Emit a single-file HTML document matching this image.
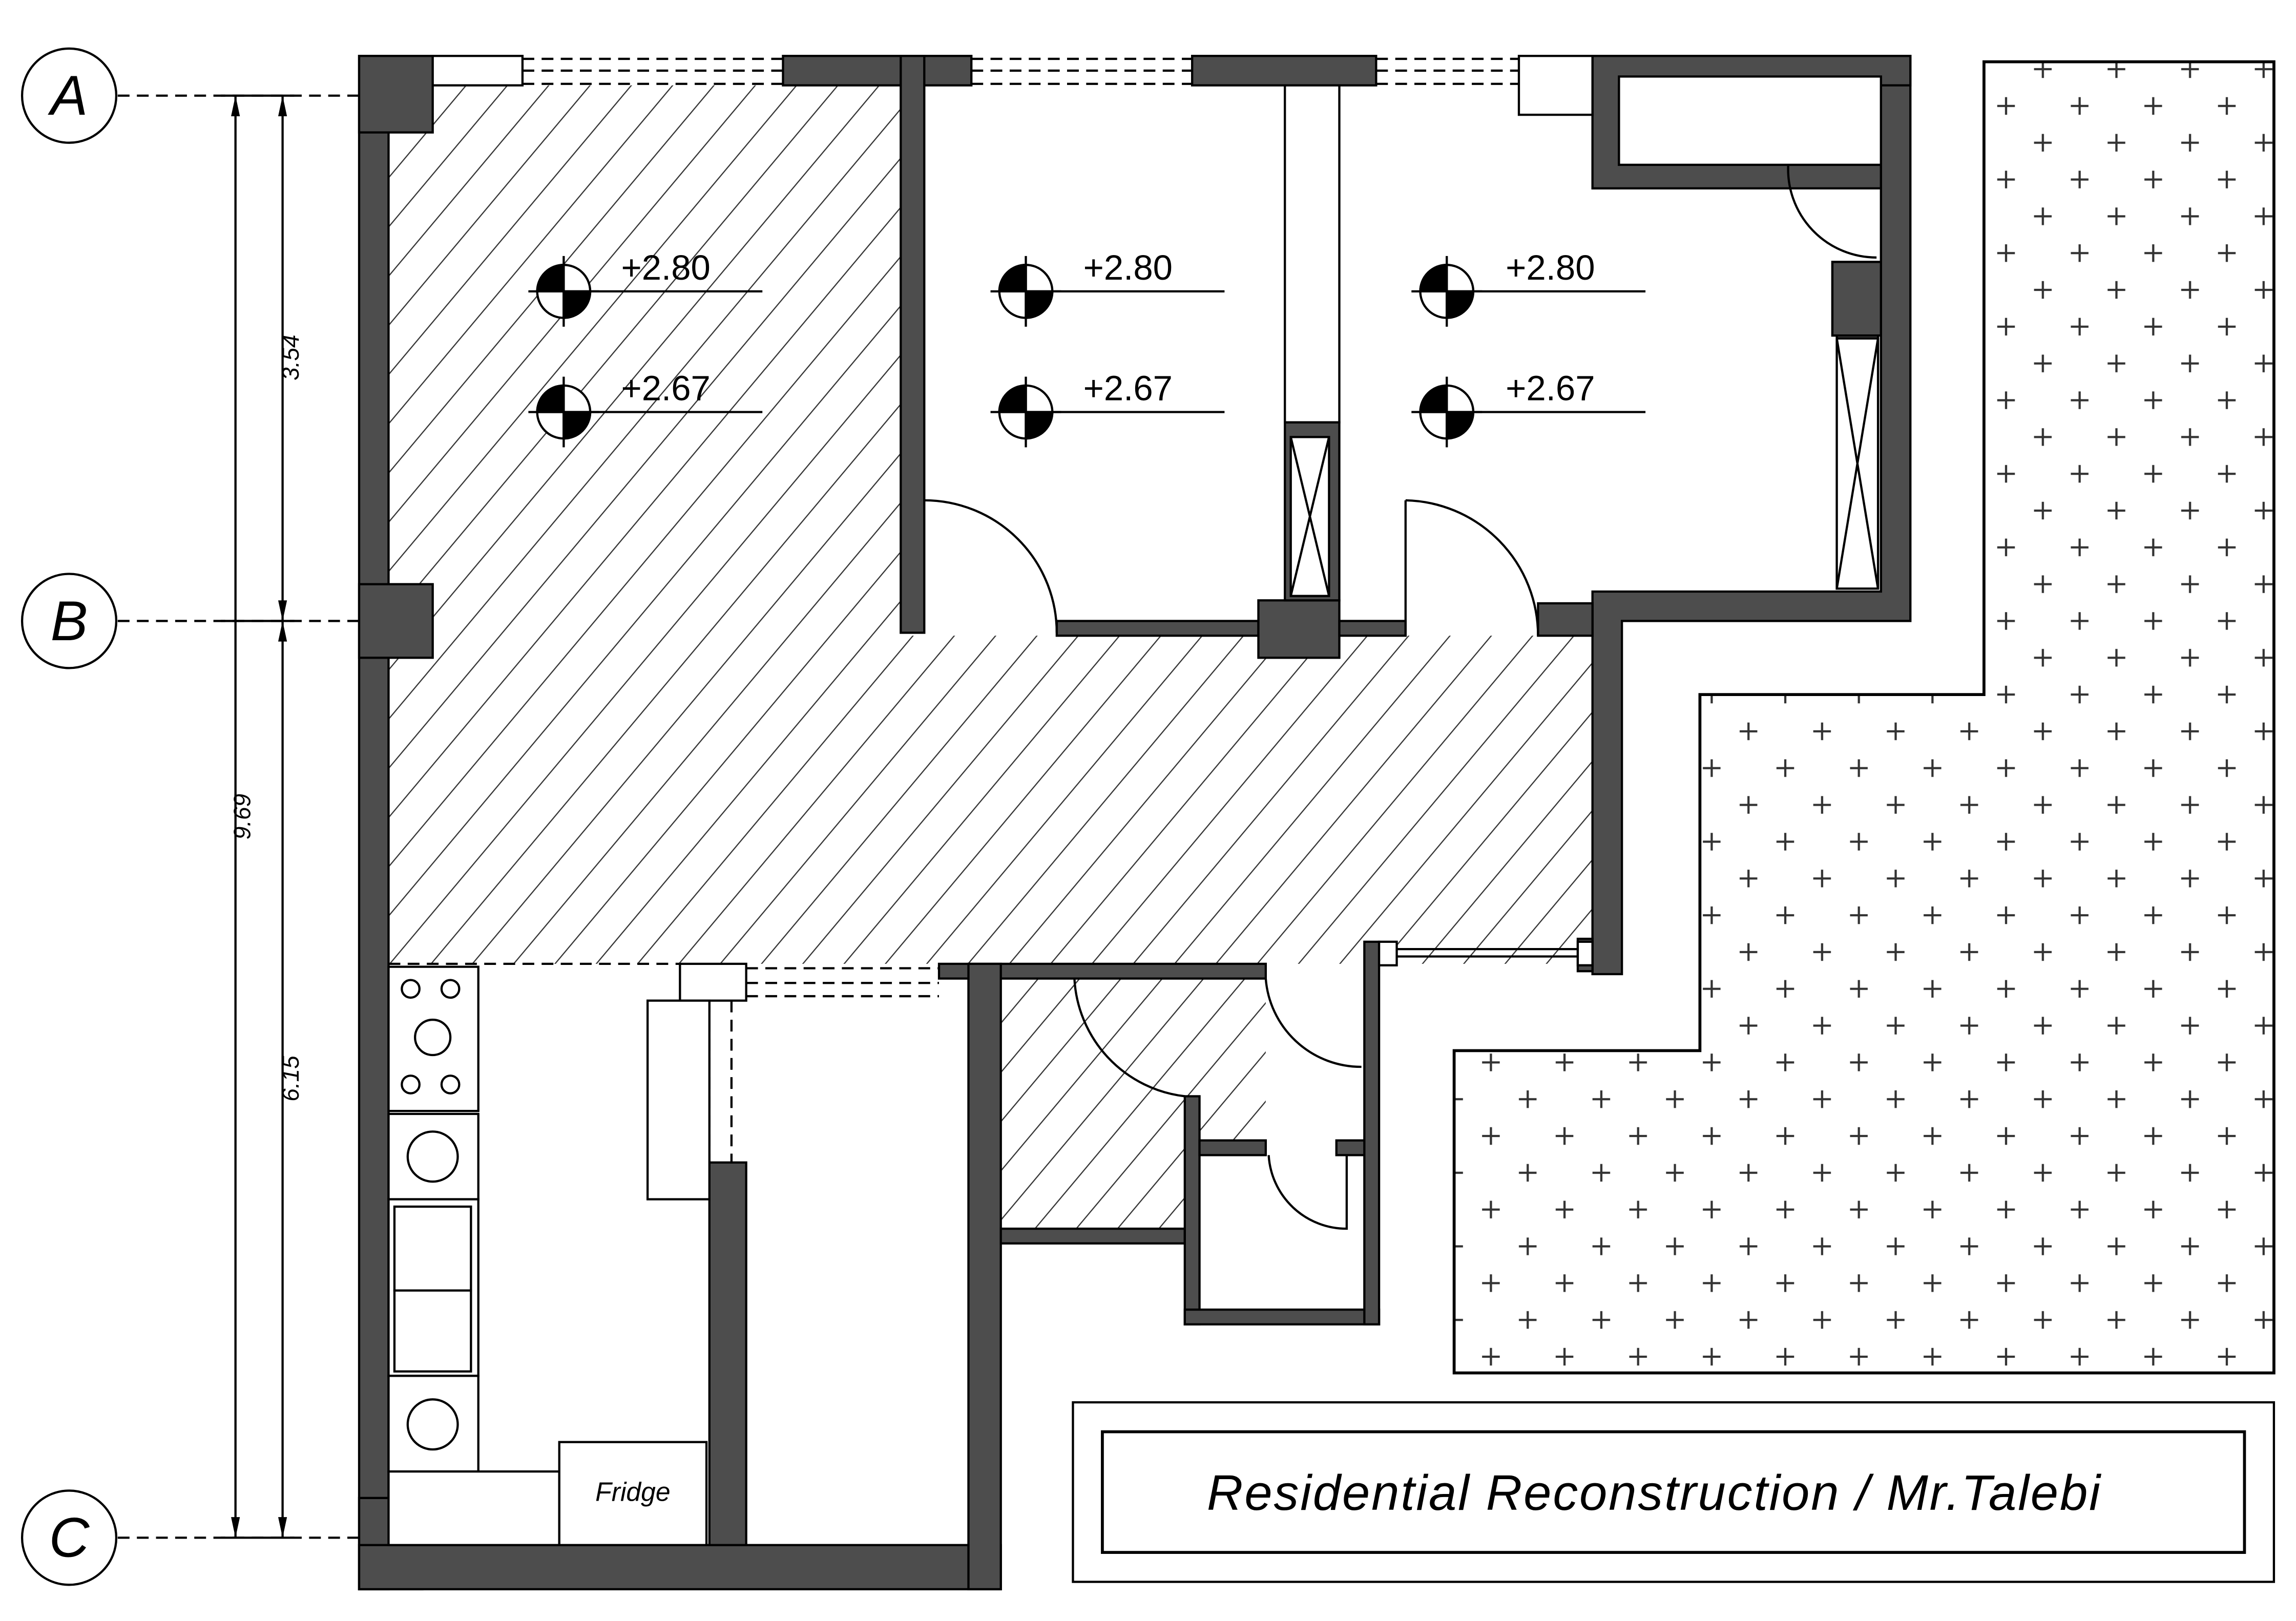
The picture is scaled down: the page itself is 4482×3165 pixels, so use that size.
<!DOCTYPE html>
<html><head><meta charset="utf-8"><style>html,body{margin:0;padding:0;background:#fff}svg{display:block}</style></head>
<body>
<svg width="4482" height="3165" viewBox="0 0 1560 1101.6" xmlns="http://www.w3.org/2000/svg">
<defs>
<pattern id="h" patternUnits="userSpaceOnUse" width="21.5" height="21.5" patternTransform="rotate(40)">
<line x1="0" y1="0" x2="0" y2="21.5" stroke="#333" stroke-width="1.6"/>
</pattern>
<pattern id="p" patternUnits="userSpaceOnUse" x="1338" y="47" width="50" height="50">
<path d="M19 25h12M25 19v12M44 0h12M50 -6v12M-6 0h12M0 -6v12M44 50h12M50 44v12M-6 50h12M0 44v12" stroke="#333" stroke-width="1.5"/>
</pattern>
</defs>
<rect width="1560" height="1101.6" fill="#fff"/>
<g stroke="#000" stroke-width="1.5">
<path d="M264 58H612V432H1082V655H264Z" fill="url(#h)" stroke="none"/>
<path d="M680 665H860V775H805V835H680Z" fill="url(#h)" stroke="none"/>
<path d="M1348 42H1545V933H988V714H1155V472H1348Z" fill="url(#p)" stroke-width="2"/>
<path d="M628 58H873V422H718A90 90 0 0 0 628 340Z" fill="#fff" stroke="none"/>
<rect x="910" y="58" width="172" height="364" fill="#fff" stroke="none"/>
<rect x="1082" y="58" width="216" height="344" fill="#fff" stroke="none"/>
<g fill="#4d4d4d">
<rect x="244" y="38" width="20" height="1042"/>
<rect x="244" y="38" width="50" height="52"/>
<rect x="244" y="397" width="50" height="50"/>
<rect x="244" y="1018" width="43" height="62"/>
<rect x="532" y="38" width="128" height="20"/>
<rect x="612" y="38" width="16" height="392"/>
<rect x="810" y="38" width="125" height="20"/>
<path d="M1082 38H1298V422H1102V662H1082V402H1278V178H1245V228H1248V400H1276V178H1278V112H1100V128H1082Z"/>
<path d="M1082 38H1298V58H1100V112H1278V128H1082Z"/>
<rect x="1245" y="178" width="33" height="50"/>
<rect x="718" y="422" width="137" height="10"/>
<rect x="855" y="408" width="55" height="39"/>
<rect x="910" y="422" width="45" height="10"/>
<rect x="1045" y="410" width="37" height="22"/>
<rect x="873" y="287" width="37" height="121"/>
<rect x="244" y="1050" width="436" height="30"/>
<rect x="638" y="655" width="222" height="10"/>
<rect x="658" y="655" width="22" height="425"/>
<rect x="482" y="790" width="25" height="260"/>
<rect x="680" y="835" width="125" height="10"/>
<rect x="805" y="745" width="10" height="155"/>
<rect x="805" y="890" width="132" height="10"/>
<rect x="927" y="640" width="10" height="260"/>
<rect x="815" y="775" width="45" height="10"/>
<rect x="908" y="775" width="19" height="10"/>
<rect x="1072" y="638" width="10" height="22"/>
</g>
<rect x="1100" y="52" width="178" height="60" fill="#fff"/>
<rect x="873" y="58" width="37" height="229" fill="#fff"/>
<rect x="877" y="297" width="26" height="108" fill="#fff"/>
<path d="M877 297L903 405M903 297L877 405" fill="none"/>
<rect x="1248" y="230" width="28" height="170" fill="#fff"/>
<path d="M1248 230L1276 400M1276 230L1248 400" fill="none"/>
<rect x="294" y="38" width="61" height="20" fill="#fff"/>
<rect x="1032" y="38" width="50" height="40" fill="#fff"/>
<g stroke-dasharray="8 5" fill="none">
<path d="M355 40H532M355 48H532M355 57H532M660 40H810M660 48H810M660 57H810M935 40H1032M935 48H1032M935 57H1032"/>
<path d="M264 655H462M507 658H638M507 668H638M507 677H638M482 680V790M497 680V790"/>
</g>
<rect x="462" y="655" width="45" height="25" fill="#fff"/>
<rect x="440" y="680" width="42" height="135" fill="#fff"/>
<path d="M937 645H1076M937 650H1076" fill="none"/>
<rect x="937" y="640" width="12" height="16" fill="#fff"/>
<rect x="1072" y="640" width="10" height="16" fill="#fff"/>
<path d="M628 340A90 90 0 0 1 718 430" fill="none"/>
<path d="M955 340V432M955 340A92 92 0 0 1 1045 432" fill="none"/>
<path d="M1215 112A60 60 0 0 0 1275 175" fill="none"/>
<path d="M730 665A85 85 0 0 0 805 745" fill="none"/>
<path d="M860 665A65 65 0 0 0 925 725" fill="none"/>
<path d="M862 785A53 53 0 0 0 915 835V785" fill="none"/>
<g fill="#fff">
<rect x="264" y="657" width="61" height="98"/>
<rect x="264" y="757" width="61" height="58"/>
<rect x="264" y="815" width="61" height="120"/>
<rect x="268" y="820" width="52" height="57"/>
<rect x="268" y="877" width="52" height="55"/>
<rect x="264" y="935" width="61" height="65"/>
<rect x="264" y="1000" width="116" height="50"/>
<rect x="380" y="980" width="100" height="70"/>
<circle cx="279" cy="672" r="6"/><circle cx="306" cy="672" r="6"/>
<circle cx="279" cy="737" r="6"/><circle cx="306" cy="737" r="6"/>
<circle cx="294" cy="705" r="12"/>
<circle cx="294" cy="786" r="17"/>
<circle cx="294" cy="968" r="17"/>
</g>
<rect x="729" y="953" width="816" height="122" fill="none"/>
<rect x="749" y="973" width="776" height="82" fill="none" stroke-width="2"/>
<g fill="#fff">
<circle cx="47" cy="65" r="32"/><circle cx="47" cy="422" r="32"/><circle cx="47" cy="1045" r="32"/>
</g>
<path d="M80 65H244M80 422H244M80 1045H244" stroke-dasharray="8 5" fill="none"/>
<path d="M150 65H200M150 1045H200M160 65V1045M192 65V1045M150 422H200" fill="none"/>
<g fill="#000" stroke="none">
<path d="M160 65l-3 14h6zM192 65l-3 14h6zM160 1045l-3 -14h6zM192 1045l-3 -14h6zM192 422l-3 -14h6zM192 422l-3 14h6z"/>
</g>
<path d="M365 198H518M365 280H518M680 198H832M680 280H832M965 198H1118M965 280H1118" fill="none"/>
</g>
<g stroke="#000" stroke-width="1.5">
<g transform="translate(383,198)"><circle r="18" fill="#fff"/><path d="M0 0V-18A18 18 0 0 0 -18 0ZM0 0V18A18 18 0 0 0 18 0Z" fill="#000"/><path d="M0 -24V24M-24 0H24"/></g>
<g transform="translate(383,280)"><circle r="18" fill="#fff"/><path d="M0 0V-18A18 18 0 0 0 -18 0ZM0 0V18A18 18 0 0 0 18 0Z" fill="#000"/><path d="M0 -24V24M-24 0H24"/></g>
<g transform="translate(697,198)"><circle r="18" fill="#fff"/><path d="M0 0V-18A18 18 0 0 0 -18 0ZM0 0V18A18 18 0 0 0 18 0Z" fill="#000"/><path d="M0 -24V24M-24 0H24"/></g>
<g transform="translate(697,280)"><circle r="18" fill="#fff"/><path d="M0 0V-18A18 18 0 0 0 -18 0ZM0 0V18A18 18 0 0 0 18 0Z" fill="#000"/><path d="M0 -24V24M-24 0H24"/></g>
<g transform="translate(983,198)"><circle r="18" fill="#fff"/><path d="M0 0V-18A18 18 0 0 0 -18 0ZM0 0V18A18 18 0 0 0 18 0Z" fill="#000"/><path d="M0 -24V24M-24 0H24"/></g>
<g transform="translate(983,280)"><circle r="18" fill="#fff"/><path d="M0 0V-18A18 18 0 0 0 -18 0ZM0 0V18A18 18 0 0 0 18 0Z" fill="#000"/><path d="M0 -24V24M-24 0H24"/></g>
</g>
<g font-family="Liberation Sans, sans-serif" fill="#000">
<g font-size="24">
<text x="422" y="190">+2.80</text><text x="422" y="272">+2.67</text>
<text x="736" y="190">+2.80</text><text x="736" y="272">+2.67</text>
<text x="1023" y="190">+2.80</text><text x="1023" y="272">+2.67</text>
</g>
<g font-size="38" font-style="italic" text-anchor="middle">
<text x="47" y="78">A</text><text x="47" y="435">B</text><text x="47" y="1058">C</text>
</g>
<g font-size="16" font-style="italic" text-anchor="middle">
<text transform="translate(203,243) rotate(-90)">3.54</text>
<text transform="translate(203,733) rotate(-90)">6.15</text>
<text transform="translate(170,555) rotate(-90)">9.69</text>
</g>
<text x="430" y="1020" font-size="18" font-style="italic" text-anchor="middle">Fridge</text>
<text x="1124" y="1026" font-size="34" font-style="italic" text-anchor="middle" letter-spacing="1">Residential Reconstruction / Mr.Talebi</text>
</g>
</svg>
</body></html>
